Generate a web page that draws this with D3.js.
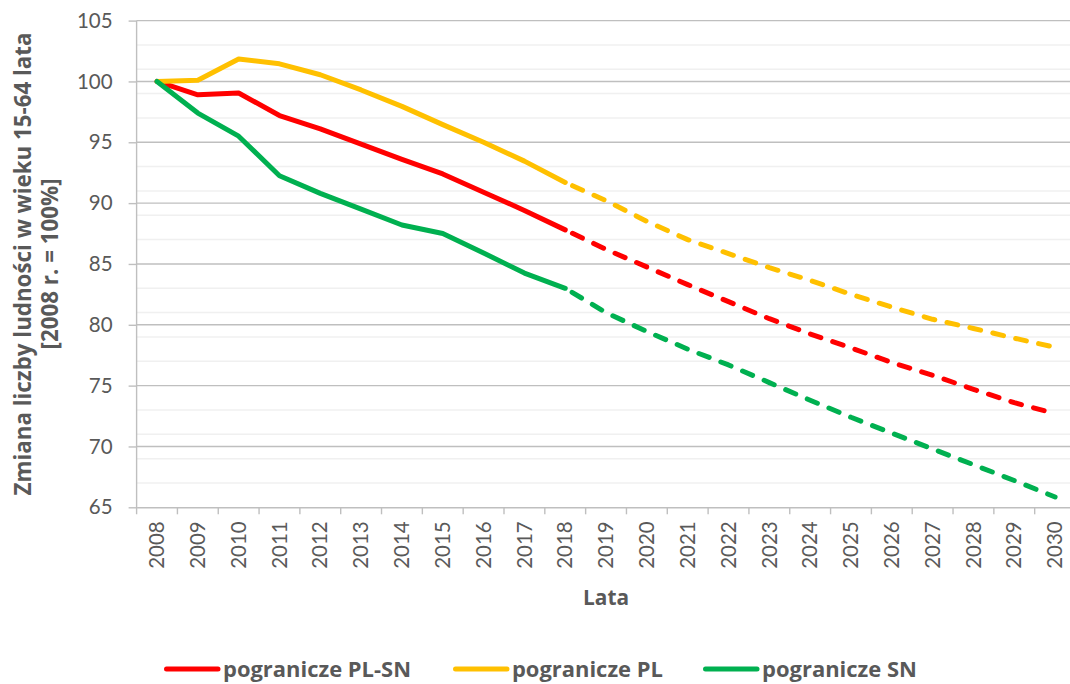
<!DOCTYPE html>
<html><head><meta charset="utf-8">
<script src="https://cdn.jsdelivr.net/npm/d3@7"></script>
<style>
body{margin:0;background:#fff}
svg{display:block;background:#fff}
text{font-family:Lato,"Open Sans",sans-serif;fill:#595959}
.bold{font-family:"Open Sans",Lato,sans-serif;font-weight:bold}
</style>
</head><body>
<svg id="chart" width="1070" height="684"></svg>
<script>
// ---- data ----
const years = [2008,2009,2010,2011,2012,2013,2014,2015,2016,2017,2018,2019,2020,2021,2022,2023,2024,2025,2026,2027,2028,2029,2030];
const plSn = [100,98.9,99.05,97.2,96.1,94.85,93.6,92.4,90.9,89.4,87.8,86.2,84.75,83.3,81.9,80.5,79.25,78.1,76.9,75.85,74.7,73.6,72.7];
const pl   = [100,100.1,101.85,101.45,100.55,99.3,97.95,96.45,95.0,93.45,91.7,90.2,88.5,87.0,85.85,84.7,83.65,82.5,81.45,80.45,79.7,78.9,78.15];
const sn   = [100,97.4,95.5,92.25,90.8,89.5,88.2,87.5,85.9,84.25,83.0,81.0,79.45,78.0,76.7,75.25,73.8,72.4,71.1,69.8,68.5,67.2,65.85];
const seriesNames  = ["pogranicze PL-SN","pogranicze PL","pogranicze SN"];
const seriesColors = ["#FF0000","#FFC000","#00B050"];
const yTicks = [65,70,75,80,85,90,95,100,105];
const yMinor = [67,69,71,73,77,79,81,83,87,89,91,93,97,99,101,103];
const lastActualYear = 2018;
const xTitle = "Lata";
const yTitle = ["Zmiana liczby ludności w wieku 15-64 lata","[2008 r. = 100%]"];

// ---- layout ----
const svg = d3.select("#chart");
const pLeft = 136.6, pRight = 1075.5, pTop = 20.6, pBottom = 507.3;
const x = d3.scaleBand().domain(years).range([pLeft, pRight]).padding(0);
const y = d3.scaleLinear().domain([65,105]).range([pBottom, pTop]);
const cx = d => x(d) + x.bandwidth()/2;

// minor grid
svg.append("g").selectAll("line").data(yMinor).join("line")
  .attr("x1", pLeft).attr("x2", pRight)
  .attr("y1", d => y(d)).attr("y2", d => y(d))
  .attr("stroke", "#F0F0F0").attr("stroke-width", 1.5);
// major grid
svg.append("g").selectAll("line").data(yTicks.filter(v => v !== 65)).join("line")
  .attr("x1", pLeft).attr("x2", pRight)
  .attr("y1", d => y(d)).attr("y2", d => y(d))
  .attr("stroke", "#BFBFBF").attr("stroke-width", 1.4);

// y axis
const ya = svg.append("g").attr("transform", `translate(${pLeft},0)`)
  .call(d3.axisLeft(y).tickValues(yTicks).tickSize(8).tickPadding(16).tickSizeOuter(0));
ya.select(".domain").attr("stroke", "#BFBFBF").attr("stroke-width", 1.4)
  .attr("d", `M0,${pTop}V${pBottom + 7}`);
ya.selectAll(".tick line").attr("stroke", "#BFBFBF").attr("stroke-width", 1.4);
ya.selectAll(".tick text").style("font-size", "20.5px").attr("fill", "#595959");

// x axis
const xa = svg.append("g").attr("transform", `translate(0,${pBottom})`)
  .call(d3.axisBottom(x).tickSize(0).tickSizeOuter(0));
xa.select(".domain").attr("stroke", "#BFBFBF").attr("stroke-width", 1.4);
xa.selectAll(".tick text")
  .style("font-size", "20.5px").attr("fill", "#595959")
  .attr("transform", "rotate(-90)")
  .attr("text-anchor", "end")
  .attr("x", -14).attr("y", 0).attr("dy", "0.35em");
// band boundary ticks
xa.append("g").selectAll("line").data(years.slice(1)).join("line")
  .attr("x1", d => x(d)).attr("x2", d => x(d))
  .attr("y1", 0).attr("y2", 7)
  .attr("stroke", "#BFBFBF").attr("stroke-width", 1.4);

// lines
const allSeries = [plSn, pl, sn];
const line = d3.line().x(d => cx(d.year)).y(d => y(d.v));
allSeries.forEach((vals, i) => {
  const pts = years.map((yr, j) => ({year: yr, v: vals[j]}));
  svg.append("path").datum(pts.filter(p => p.year <= lastActualYear))
    .attr("d", line).attr("fill", "none")
    .attr("stroke", seriesColors[i]).attr("stroke-width", 5)
    .attr("stroke-linejoin", "round").attr("stroke-linecap", "round");
  svg.append("path").datum(pts.filter(p => p.year >= lastActualYear))
    .attr("d", line).attr("fill", "none")
    .attr("stroke", seriesColors[i]).attr("stroke-width", 5)
    .attr("stroke-dasharray", "11,12.5").attr("stroke-dashoffset", -8)
    .attr("stroke-linejoin", "round").attr("stroke-linecap", "round");
});

// fit bold text to its measured target width
function fit(sel, target) {
  const n = sel.node();
  const w = n.getComputedTextLength();
  const fs = parseFloat(sel.style("font-size"));
  if (w > 0) sel.style("font-size", (fs * target / w) + "px");
}

// titles
const xt = svg.append("text").attr("class", "bold").attr("x", (pLeft + pRight)/2).attr("y", 605)
  .attr("text-anchor", "middle").style("font-size", "20px")
  .text(xTitle);
fit(xt, 46);
const yt1 = svg.append("text").attr("class", "bold")
  .attr("transform", `translate(31,${(pTop+pBottom)/2}) rotate(-90)`)
  .attr("text-anchor", "middle").style("font-size", "20px").text(yTitle[0]);
fit(yt1, 463);
const yt2 = svg.append("text").attr("class", "bold")
  .attr("transform", `translate(58,${(pTop+pBottom)/2}) rotate(-90)`)
  .attr("text-anchor", "middle").style("font-size", yt1.style("font-size")).text(yTitle[1]);

// legend
const legendX = [164, 453, 703];
const legendW = [188, 151, 155];
const lg = svg.append("g").selectAll("g").data(seriesNames).join("g")
  .attr("transform", (d, i) => `translate(${legendX[i]},669)`);
lg.append("line").attr("x1", 2.5).attr("x2", 54).attr("y1", 0).attr("y2", 0)
  .attr("stroke", (d, i) => seriesColors[i]).attr("stroke-width", 5).attr("stroke-linecap", "round");
lg.append("text").attr("class", "bold").attr("x", 59).attr("y", 8)
  .style("font-size", "20px").text(d => d)
  .each(function(d, i) { fit(d3.select(this), legendW[i]); });
</script>
</body></html>
